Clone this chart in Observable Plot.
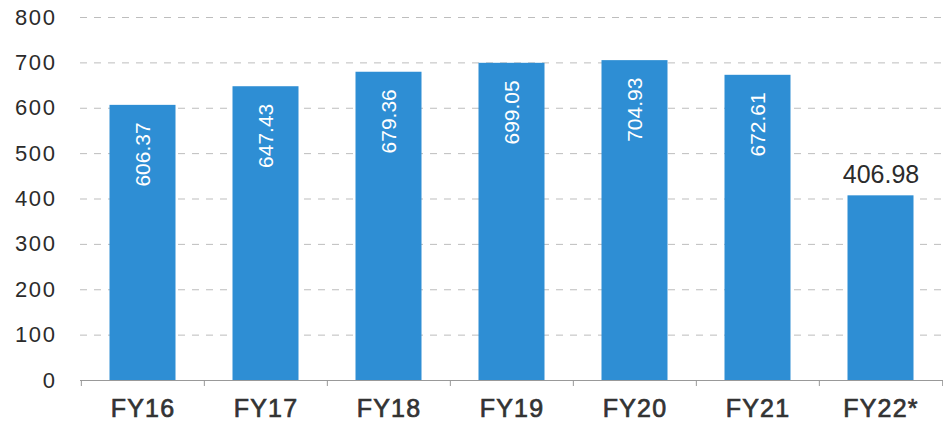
<!DOCTYPE html>
<html><head><meta charset="utf-8">
<script src="https://cdn.jsdelivr.net/npm/d3@7"></script>
<script src="https://cdn.jsdelivr.net/npm/@observablehq/plot@0.6"></script>
<style>
body{margin:0;background:#fff}
g[aria-label="y-axis tick label"] text{letter-spacing:1.6px}
g[aria-label="x-axis tick label"] text{letter-spacing:1.2px;stroke:#333;stroke-width:0.7px}
g[aria-label="value-outside"] text{letter-spacing:1.6px}
</style>
</head><body><div id="chart"></div>
<script>
const categories = ["FY16","FY17","FY18","FY19","FY20","FY21","FY22*"];
const values = [606.37,647.43,679.36,699.05,704.93,672.61,406.98];
const yTicks = [0,100,200,300,400,500,600,700,800];
const data = categories.map((c,i)=>({category:c, value:values[i], inside: i < categories.length-1}));
const W=943, H=423, mL=80, mR=0;
const step = (W-mL-mR)/categories.length;
const plot = Plot.plot({
  width:W, height:H, marginLeft:mL, marginRight:mR, marginTop:17, marginBottom:43,
  style:{fontFamily:"'Liberation Sans', Arial, sans-serif", background:"#fff", color:"#2b2b2b"},
  x:{domain:categories, padding:0, label:null},
  y:{domain:[0,800], ticks:yTicks, label:null},
  marks:[
    Plot.ruleY(yTicks.filter(d=>d>0), {stroke:"#bdbdbd", strokeDasharray:"7,7", strokeWidth:1}),
    Plot.barY(data, {x:"category", y:"value", fill:"#2E8ED4", insetLeft:28.5, insetRight:28.5}),
    Plot.ruleY([0], {stroke:"#999"}),
    Plot.ruleX(categories, {x:d=>d, y1:0, y2:0, insetBottom:-6, dx:-step/2, stroke:"#999"}),
    Plot.ruleX([categories[categories.length-1]], {x:d=>d, y1:0, y2:0, insetBottom:-6, dx:step/2, stroke:"#999"}),
    Plot.axisY({ticks:yTicks, tickSize:0, tickPadding:24, fontSize:22, fill:"#2b2b2b"}),
    Plot.axisX({tickSize:0, tickPadding:19, fontSize:25, fill:"#333"}),
    Plot.text(data.filter(d=>d.inside), {x:"category", y:"value", text:d=>d.value.toFixed(2), rotate:-90, textAnchor:"end", lineAnchor:"middle", dy:17, fill:"white", fontSize:21}),
    Plot.text(data.filter(d=>!d.inside), {x:"category", y:"value", text:d=>d.value.toFixed(2), lineAnchor:"bottom", dy:-13, fill:"#2b2b2b", fontSize:25, ariaLabel:"value-outside"})
  ]
});
document.getElementById("chart").appendChild(plot);
</script>
</body></html>
